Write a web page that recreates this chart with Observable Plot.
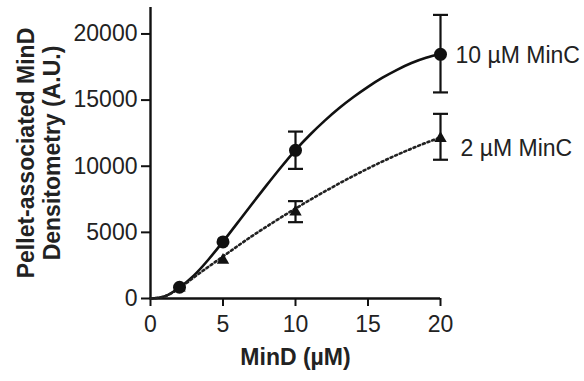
<!DOCTYPE html>
<html><head><meta charset="utf-8">
<script src="https://cdn.jsdelivr.net/npm/d3@7"></script>
<script src="https://cdn.jsdelivr.net/npm/@observablehq/plot@0.6"></script>
<style>body{margin:0;background:#fff}</style>
</head><body><div id="chart"></div>
<script>
// measured points
const minD = [2, 5, 10, 20];
const minC10 = [850, 4280, 11200, 18460];
const minC2 = [800, 2900, 6550, 12100];
// error bars
const errX = [10, 20];
const err10Low = [9800, 15580];
const err10High = [12620, 21440];
const err2Low = [5770, 10490];
const err2High = [7360, 13960];
// fitted curves
const curveX = [0,1,2,3,4,5,6,7,8,9,10,11,12,13,14,15,16,17,18,19,20];
const curve10 = [0,180,830,1750,2950,4300,5720,7150,8550,9920,11220,12380,13430,14380,15230,16000,16690,17290,17800,18200,18480];
const curve2 = [0,170,780,1600,2400,3180,3960,4720,5430,6130,6800,7450,8080,8690,9270,9830,10360,10860,11330,11770,12180];
// ticks and labels
const xTicks = [0, 5, 10, 15, 20];
const yTicks = [0, 5000, 10000, 15000, 20000];
const seriesLabels = ["10 µM MinC", "2 µM MinC"];
const xTitle = "MinD (µM)";
const yTitle1 = "Pellet-associated MinD";
const yTitle2 = "Densitometry (A.U.)";

const ink = "#111";
const pts10 = minD.map((x, i) => ({x, y: minC10[i]}));
const pts2 = minD.map((x, i) => ({x, y: minC2[i]}));
const c10 = curveX.map((x, i) => ({x, y: curve10[i]}));
const c2 = curveX.map((x, i) => ({x, y: curve2[i]}));
const errs = [
  ...errX.map((x, i) => ({x, lo: err10Low[i], hi: err10High[i]})),
  ...errX.map((x, i) => ({x, lo: err2Low[i], hi: err2High[i]}))
];
const caps = errs.flatMap(d => [{x: d.x, y: d.lo}, {x: d.x, y: d.hi}]);
const capSymbol = {draw(ctx) { ctx.moveTo(-7.5, 0); ctx.lineTo(7.5, 0); }};

const chart = Plot.plot({
  width: 584, height: 381,
  marginLeft: 150, marginRight: 144, marginTop: 7, marginBottom: 83,
  style: {fontFamily: "'Liberation Sans', Arial, sans-serif", fontSize: "23px", color: ink, background: "#fff"},
  x: {domain: [0, 20]},
  y: {domain: [0, 22000]},
  marks: [
    Plot.axisY(yTicks, {tickSize: 9, tickPadding: 4, tickFormat: d3.format("d"), label: null, stroke: ink, strokeWidth: 2, fill: "#222"}),
    Plot.axisX(xTicks, {tickSize: 8, tickPadding: 9, label: null, stroke: ink, strokeWidth: 2, fill: "#222"}),
    Plot.ruleX([0], {stroke: ink, strokeWidth: 2.4}),
    Plot.ruleY([0], {x1: 0, x2: 20, stroke: ink, strokeWidth: 2.4}),
    Plot.line(c10, {x: "x", y: "y", curve: "natural", stroke: ink, strokeWidth: 2.6}),
    Plot.line(c2, {x: "x", y: "y", curve: "natural", stroke: "#222", strokeWidth: 2.6, strokeDasharray: "2,3"}),
    Plot.ruleX(errs, {x: "x", y1: "lo", y2: "hi", stroke: ink, strokeWidth: 2.2}),
    Plot.dot(caps, {x: "x", y: "y", symbol: capSymbol, stroke: ink, strokeWidth: 2.2, fill: "none"}),
    Plot.dot(pts2, {x: "x", y: "y", symbol: "triangle", r: 4.6, fill: ink, stroke: "none"}),
    Plot.dot(pts10, {x: "x", y: "y", symbol: "circle", r: 6.5, fill: ink, stroke: "none"}),
    Plot.text([pts10[3]], {x: "x", y: "y", text: () => seriesLabels[0], dx: 15, dy: 1, textAnchor: "start", lineAnchor: "middle", fill: "#222", fontSize: 23}),
    Plot.text([pts2[3]], {x: "x", y: "y", text: () => seriesLabels[1], dx: 20, dy: 10, textAnchor: "start", lineAnchor: "middle", fill: "#222", fontSize: 23}),
    Plot.text([xTitle], {frameAnchor: "bottom", dy: 59, text: d => d, textAnchor: "middle", lineAnchor: "middle", fontWeight: "bold", fontSize: 23, fill: "#222"}),
    Plot.text([yTitle1], {frameAnchor: "left", dx: -124, text: d => d, rotate: -90, textAnchor: "middle", lineAnchor: "middle", fontWeight: "bold", fontSize: 23, fill: "#222"}),
    Plot.text([yTitle2], {frameAnchor: "left", dx: -98, text: d => d, rotate: -90, textAnchor: "middle", lineAnchor: "middle", fontWeight: "bold", fontSize: 23, fill: "#222"})
  ]
});
document.getElementById("chart").append(chart);
</script>
</body></html>
